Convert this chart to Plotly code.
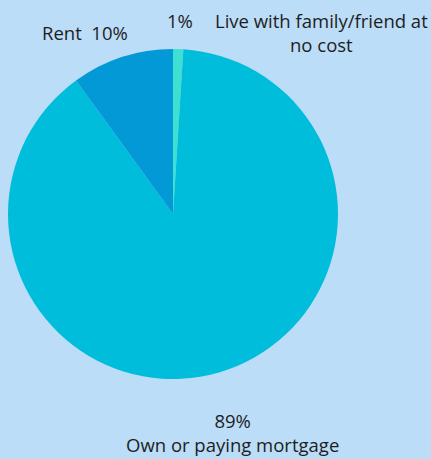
import plotly.graph_objects as go

# Housing situation shares (clockwise from 12 o'clock)
categories = ["Live with family/friend at no cost", "Own or paying mortgage", "Rent"]
shares = [1, 89, 10]
slice_colors = ["#3ee0d2", "#00bedb", "#0399d6"]

W, H = 431, 459
BG = "#bbddf8"
TEXT = "#1e1e1e"
FONT = "Open Sans"

fig = go.Figure(
    go.Pie(
        labels=categories,
        values=shares,
        sort=False,
        direction="clockwise",
        rotation=0,
        marker=dict(colors=slice_colors, line=dict(width=0)),
        textinfo="none",
        hoverinfo="label+percent",
        showlegend=False,
        domain=dict(x=[8 / W, 338 / W], y=[1 - 379 / H, 1 - 49 / H]),
    )
)


def px(x, y):
    return dict(x=x / W, y=1 - y / H, xref="paper", yref="paper")


pct = {c: f"{v}%" for c, v in zip(categories, shares)}
label_font = dict(family=FONT, size=18.5, color=TEXT)

annotations = [
    dict(text=f"Rent  {pct['Rent']}", **px(85, 33)),
    dict(text=pct["Live with family/friend at no cost"], **px(180, 21)),
    dict(text="Live with family/friend at<br>no cost", **px(321, 32)),
    dict(text=f"{pct['Own or paying mortgage']}<br>Own or paying mortgage", **px(232, 432)),
]
for a in annotations:
    a.update(showarrow=False, font=label_font, xanchor="center", yanchor="middle")

fig.update_layout(
    width=W,
    height=H,
    margin=dict(l=0, r=0, t=0, b=0),
    paper_bgcolor=BG,
    plot_bgcolor=BG,
    annotations=annotations,
)

fig.write_html("out.html")
